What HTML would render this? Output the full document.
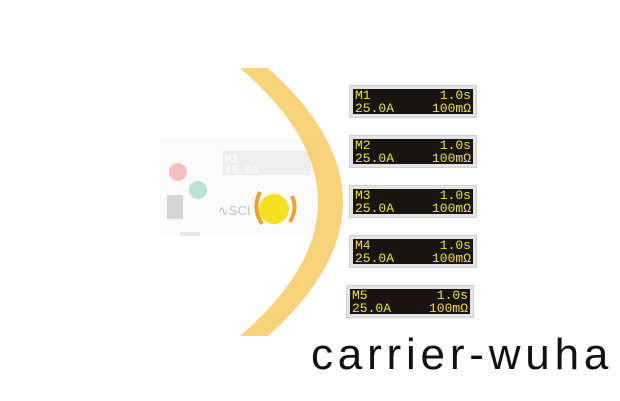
<!DOCTYPE html>
<html><head><style>
body{margin:0;width:620px;height:401px;background:#fff;position:relative;overflow:hidden;font-family:"Liberation Sans",sans-serif}
.d{position:absolute;width:128px;height:33px;background:#e4e4e4;border:1px solid #d0d0d0;box-sizing:border-box}
.d .i{position:absolute;left:3px;top:3px;right:3px;bottom:3px;background:#1a1410;color:#e8e030;font-family:"Liberation Mono",monospace;font-size:13px;line-height:13px;padding:0 2px}
.d .r{position:absolute;right:2px}
.t{position:absolute;left:311px;top:330px;font-size:44px;letter-spacing:4.8px;color:#111}
</style></head><body>
<svg width="620" height="401" style="position:absolute;left:0;top:0">
<g opacity="0.35">
<rect x="160" y="138" width="155" height="98" fill="#f4f4f4"/>
<rect x="223" y="151" width="88" height="24" fill="#cfcfcf"/>
<text x="225" y="162" font-family="Liberation Mono" font-size="11" fill="#fff">M1</text>
<text x="225" y="173" font-family="Liberation Mono" font-size="11" fill="#fff">40.0A</text>
<circle cx="178" cy="172" r="9" fill="#e05050"/>
<circle cx="198" cy="190" r="9" fill="#40b080"/>
<rect x="167" y="195" width="16" height="24" fill="#888"/>
<rect x="180" y="232" width="20" height="4" fill="#bbb"/>
</g>
<text x="218" y="215" font-size="13" fill="#aaa" opacity="0.7">∿SCI</text>
<path d="M260 192 Q252 208 262 224" stroke="#f0a030" stroke-width="4" fill="none"/>
<path d="M292 196 Q298 208 290 222" stroke="#f0a030" stroke-width="4" fill="none"/>
<circle cx="274" cy="209" r="15" fill="#f4e020"/>
<path d="M240 68 L268 68 Q418 202 268 336 L240 336 Q396 202 240 68 Z" fill="#f5c040" opacity="0.7"/>
</svg>
<div class="d" style="left:349px;top:85px"><div class="i">M1<span class="r">1.0s</span><br>25.0A<span class="r">100mΩ</span></div></div>
<div class="d" style="left:349px;top:135px"><div class="i">M2<span class="r">1.0s</span><br>25.0A<span class="r">100mΩ</span></div></div>
<div class="d" style="left:349px;top:185px"><div class="i">M3<span class="r">1.0s</span><br>25.0A<span class="r">100mΩ</span></div></div>
<div class="d" style="left:349px;top:235px"><div class="i">M4<span class="r">1.0s</span><br>25.0A<span class="r">100mΩ</span></div></div>
<div class="d" style="left:346px;top:285px"><div class="i">M5<span class="r">1.0s</span><br>25.0A<span class="r">100mΩ</span></div></div>
<div class="t">carrier-wuha</div>
</body></html>
